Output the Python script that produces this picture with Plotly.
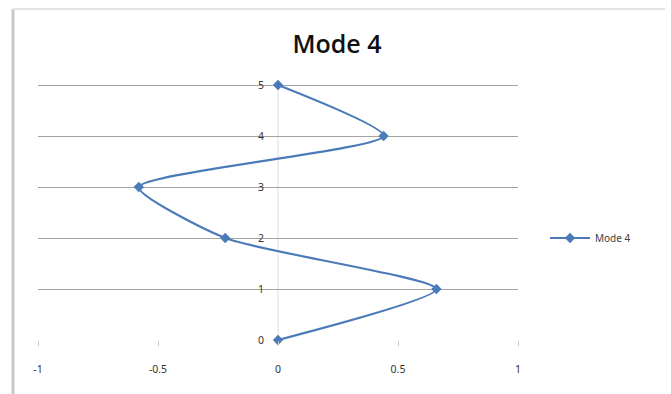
import plotly.graph_objects as go

# Mode shape 4: modal displacement at each floor level
displacement = [0.0, 0.66, -0.22, -0.58, 0.44, 0.0]
floor = [0, 1, 2, 3, 4, 5]
series_name = "Mode 4"
chart_title = "Mode 4"

x_tickvals = [-1, -0.5, 0, 0.5, 1]
x_ticktext = ["-1", "-0.5", "0", "0.5", "1"]
y_tickvals = [0, 1, 2, 3, 4, 5]

W, H = 671, 394
ML, MR, MT, MB = 38, 153, 83, 54
PW, PH = W - ML - MR, H - MT - MB
Y_TOP = 5.04  # a little headroom so the top gridline is kept

def px_to_paper(px, py):
    return (px - ML) / PW, (H - MB - py) / PH

line_col = "#4a7bb8"

fig = go.Figure()
fig.add_trace(go.Scatter(
    x=displacement, y=floor, name=series_name,
    mode="lines+markers", cliponaxis=False,
    line=dict(color=line_col, width=2.2, shape="spline", smoothing=0.6),
    marker=dict(symbol="diamond", size=8, color=line_col),
))

# chart-area frame (left and top edges)
x0, y0 = px_to_paper(13, 9)
x1, _ = px_to_paper(665, 9)
_, y1 = px_to_paper(13, 394)
shapes = [
    dict(type="line", xref="paper", yref="paper", x0=x0, x1=x0, y0=y0, y1=y1,
         line=dict(color="#c8c8c8", width=3)),
    dict(type="line", xref="paper", yref="paper", x0=x0, x1=x1, y0=y0, y1=y0,
         line=dict(color="#e3e3e3", width=2)),
]

tick_font = dict(family="Noto Sans", size=10.5, color="#333333")

fig.update_layout(
    width=W, height=H,
    margin=dict(l=ML, r=MR, t=MT, b=MB),
    paper_bgcolor="white", plot_bgcolor="white",
    title=dict(text=chart_title, x=337 / W, xanchor="center",
               y=1 - 44 / H, yanchor="middle",
               font=dict(family="Open Sans", size=25, color="#111111", weight=600)),
    xaxis=dict(range=[-1, 1], tickvals=x_tickvals, ticktext=x_ticktext,
               showgrid=False, zeroline=False, showline=False,
               ticks="outside", ticklen=5, tickcolor="#c8c8c8",
               ticklabelstandoff=14, tickfont=tick_font),
    yaxis=dict(range=[0, Y_TOP], tickvals=y_tickvals,
               anchor="free", position=0.5,
               showgrid=True, gridcolor="#a3a3a3", gridwidth=1,
               zeroline=True, zerolinecolor="rgba(0,0,0,0)",
               showline=False,
               ticks="", ticklabelstandoff=14, tickfont=tick_font),
    showlegend=True,
    legend=dict(x=(545 - ML) / PW, y=(H - MB - 238) / PH, xanchor="left", yanchor="middle",
                font=dict(family="Noto Sans", size=10, color="#404040"),
                bgcolor="rgba(0,0,0,0)", itemwidth=40),
    shapes=shapes + [
        # vertical value axis through x = 0, from floor 0 to floor 5
        dict(type="line", xref="x", yref="y", x0=0, x1=0, y0=floor[0], y1=floor[-1],
             line=dict(color="#dedede", width=1), layer="below"),
    ],
)

fig.write_html("out.html")
